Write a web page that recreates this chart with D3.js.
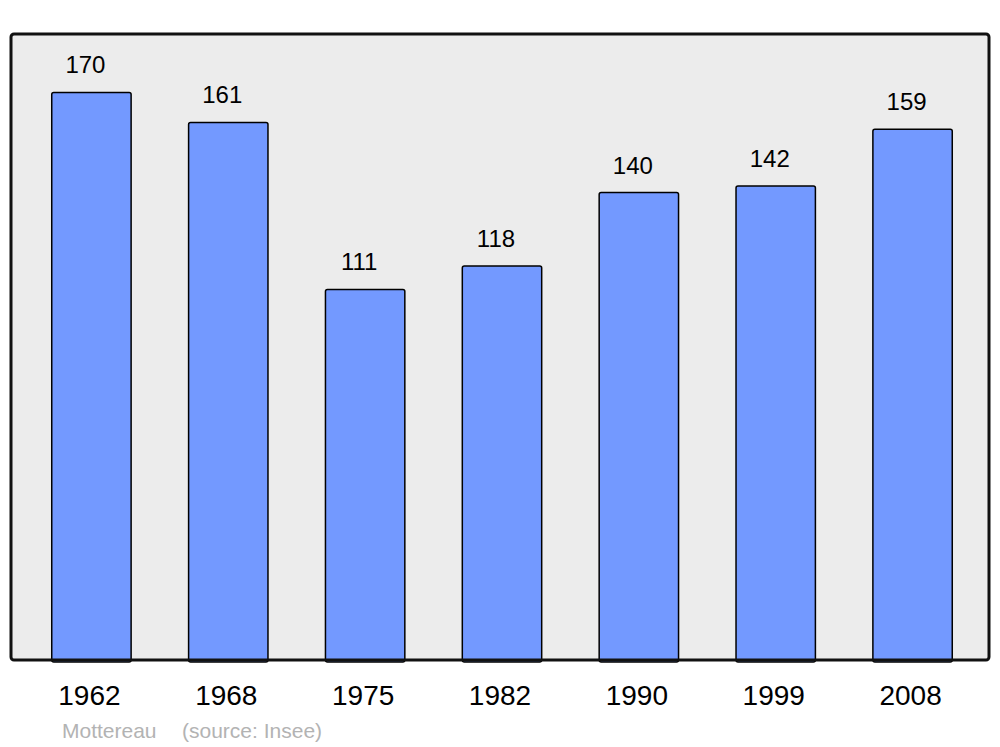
<!DOCTYPE html>
<html>
<head>
<meta charset="utf-8">
<script src="https://cdn.jsdelivr.net/npm/d3@7"></script>
<style>
  body { margin: 0; background: #fff; }
  svg { display: block; font-family: "Liberation Sans", Arial, sans-serif; }
</style>
</head>
<body>
<svg width="1000" height="747"></svg>
<script>
// data
const years = ['1962', '1968', '1975', '1982', '1990', '1999', '2008']
const population = [170, 161, 111, 118, 140, 142, 159]
const town = 'Mottereau'
const source = '(source: Insee)'

const svg = d3.select('svg'),
    width = +svg.attr('width'),
    height = +svg.attr('height')

const frame = { left: 11, right: 989, top: 34, bottom: 660 }

const x = d3.scaleBand()
    .domain(years)
    .range([23, 981])
    .paddingInner(0.42)
    .paddingOuter(0.21)

const y = d3.scaleLinear()
    .domain([0, 187.5])
    .range([frame.bottom, frame.top])

// background panel
svg.append('rect')
    .attr('x', frame.left)
    .attr('y', frame.top)
    .attr('width', frame.right - frame.left)
    .attr('height', frame.bottom - frame.top)
    .attr('rx', 3)
    .attr('fill', '#ececec')
    .attr('stroke', 'none')

const rows = years.map((yr, i) => ({ year: yr, value: population[i] }))

// bars
svg.append('g')
    .selectAll('rect')
    .data(rows)
    .enter()
    .append('rect')
    .attr('x', d => x(d.year))
    .attr('y', d => y(d.value))
    .attr('width', x.bandwidth())
    .attr('height', d => y(0) - y(d.value) + 2)
    .attr('rx', 2)
    .attr('fill', '#7399ff')
    .attr('stroke', '#000')
    .attr('stroke-width', 1.5)

// value labels
svg.append('g')
    .selectAll('text')
    .data(rows)
    .enter()
    .append('text')
    .attr('x', d => x(d.year) + x.bandwidth() / 2 - 6)
    .attr('y', d => y(d.value) - 19)
    .attr('text-anchor', 'middle')
    .style('font-size', '24px')
    .attr('fill', '#000')
    .text(d => d.value)

// frame outline on top
svg.append('rect')
    .attr('x', frame.left)
    .attr('y', frame.top)
    .attr('width', frame.right - frame.left)
    .attr('height', frame.bottom - frame.top)
    .attr('rx', 3)
    .attr('fill', 'none')
    .attr('stroke', '#111')
    .attr('stroke-width', 3)

// year labels
const xAxis = d3.axisBottom(x).tickSize(0).tickPadding(0)
const axisG = svg.append('g')
    .attr('transform', `translate(0, 684)`)
    .call(xAxis)
axisG.select('.domain').remove()
axisG.selectAll('text')
    .attr('dy', null)
    .attr('y', 21)
    .attr('x', -2)
    .style('font-size', '28px')
    .style('font-family', '"Liberation Sans", Arial, sans-serif')
    .attr('fill', '#000')

// caption
svg.append('text')
    .attr('x', 62)
    .attr('y', 738)
    .style('font-size', '21px')
    .attr('fill', '#b3b3b3')
    .text(town)

svg.append('text')
    .attr('x', 182)
    .attr('y', 738)
    .style('font-size', '21px')
    .attr('fill', '#b3b3b3')
    .text(source)
</script>
</body>
</html>
